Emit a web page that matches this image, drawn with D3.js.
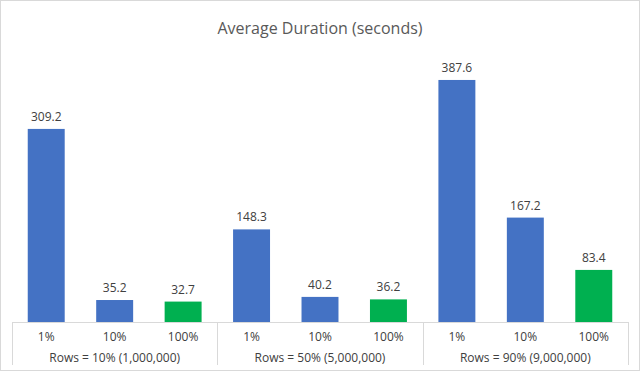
<!DOCTYPE html>
<html>
<head>
<meta charset="utf-8">
<script src="https://cdn.jsdelivr.net/npm/d3@7"></script>
<style>
  body { margin: 0; background: #fff; }
  svg { display: block; }
</style>
</head>
<body>
<svg id="chart" width="640" height="371"></svg>
<script>
// data
const groups = ['Rows = 10% (1,000,000)', 'Rows = 50% (5,000,000)', 'Rows = 90% (9,000,000)']
const subCategories = ['1%', '10%', '100%']
const durations = [
  [309.2, 35.2, 32.7],
  [148.3, 40.2, 36.2],
  [387.6, 167.2, 83.4],
]
const barColors = ['#4472C4', '#4472C4', '#00B050']

const svg = d3.select('#chart')
const W = 640
const H = 371
const margin = { top: 41, right: 12, bottom: 49, left: 12 }
const plotW = W - margin.left - margin.right
const plotH = H - margin.top - margin.bottom

// outer border
svg.append('rect')
  .attr('x', 0.5).attr('y', 0.5)
  .attr('width', W - 1).attr('height', H - 1)
  .attr('fill', '#fff')
  .attr('stroke', '#d9d9d9')

// title
svg.append('text')
  .text('Average Duration (seconds)')
  .attr('x', W / 2)
  .attr('y', 34)
  .attr('text-anchor', 'middle')
  .attr('font-family', 'Open Sans, sans-serif')
  .attr('font-size', '16px')
  .attr('fill', '#595959')

const g = svg.append('g').attr('transform', `translate(${margin.left},${margin.top})`)

// scales
const x0 = d3.scaleBand().domain(groups).range([0, plotW])
const x1 = d3.scaleBand().domain(subCategories).range([0, x0.bandwidth()]).paddingInner(0.46).paddingOuter(0.23)
const y = d3.scaleLinear().domain([0, 450]).range([plotH, 0])

const groupG = g.selectAll('.grp')
  .data(groups)
  .enter()
  .append('g')
  .attr('class', 'grp')
  .attr('transform', d => `translate(${x0(d)},0)`)

// bars
groupG.selectAll('rect')
  .data((d, i) => durations[i].map((v, j) => ({ cat: subCategories[j], v, j })))
  .enter()
  .append('rect')
  .attr('x', d => x1(d.cat))
  .attr('y', d => y(d.v))
  .attr('width', x1.bandwidth())
  .attr('height', d => plotH - y(d.v))
  .attr('fill', d => barColors[d.j])

// data labels
groupG.selectAll('.val')
  .data((d, i) => durations[i].map((v, j) => ({ cat: subCategories[j], v })))
  .enter()
  .append('text')
  .attr('class', 'val')
  .attr('x', d => x1(d.cat) + x1.bandwidth() / 2)
  .attr('y', d => y(d.v) - 8)
  .attr('text-anchor', 'middle')
  .attr('font-family', 'Open Sans, sans-serif')
  .attr('font-size', '12px')
  .attr('fill', '#404040')
  .text(d => d.v.toFixed(1))

// sub category labels
groupG.selectAll('.sub')
  .data(subCategories)
  .enter()
  .append('text')
  .attr('class', 'sub')
  .attr('x', d => x1(d) + x1.bandwidth() / 2)
  .attr('y', plotH + 19)
  .attr('text-anchor', 'middle')
  .attr('font-family', 'Open Sans, sans-serif')
  .attr('font-size', '12px')
  .attr('fill', '#404040')
  .text(d => d)

// group labels
groupG.append('text')
  .attr('x', x0.bandwidth() / 2)
  .attr('y', plotH + 40)
  .attr('text-anchor', 'middle')
  .attr('font-family', 'Open Sans, sans-serif')
  .attr('font-size', '12px')
  .attr('fill', '#404040')
  .text(d => d)

// axis line
g.append('line')
  .attr('x1', 0).attr('x2', plotW)
  .attr('y1', plotH + 0.5).attr('y2', plotH + 0.5)
  .attr('stroke', '#d9d9d9')

// group separators
const seps = groups.map(d => x0(d)).concat([plotW])
g.selectAll('.sep')
  .data(seps)
  .enter()
  .append('line')
  .attr('class', 'sep')
  .attr('x1', d => Math.round(d) + 0.5)
  .attr('x2', d => Math.round(d) + 0.5)
  .attr('y1', plotH)
  .attr('y2', plotH + 43)
  .attr('stroke', '#d9d9d9')
</script>
</body>
</html>
